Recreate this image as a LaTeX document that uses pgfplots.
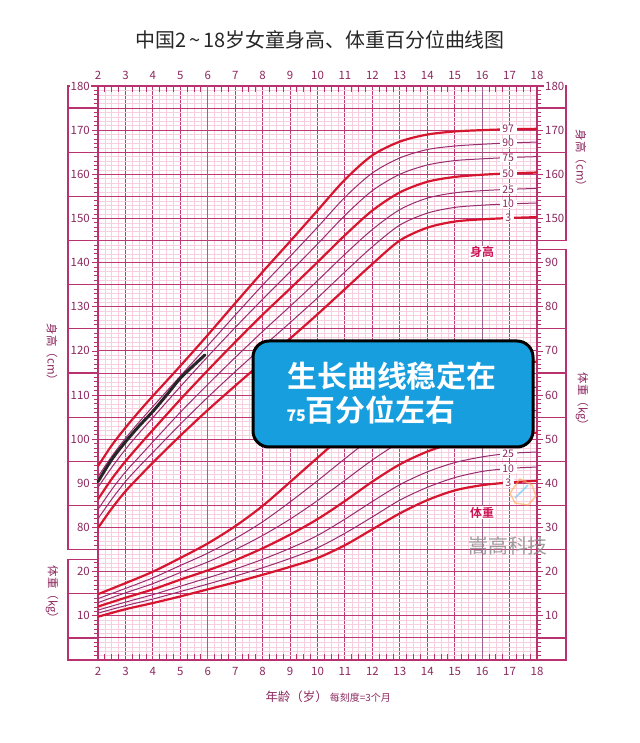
\documentclass[border=0pt]{standalone}
\usepackage{pgfplots}
\pgfplotsset{compat=1.18}
\usepackage{pgfplotstable}
\usepackage{fontspec}
\setmainfont{Noto Sans CJK SC}[BoldFont={Noto Sans CJK SC Bold}]
\definecolor{gridmaj}{RGB}{190,56,118}
\definecolor{gridmin}{RGB}{246,208,222}
\definecolor{gridv}{RGB}{150,100,140}
\definecolor{thickc}{RGB}{214,22,48}
\definecolor{thinc}{RGB}{152,44,112}
\definecolor{labc}{RGB}{140,40,95}
\definecolor{framec}{RGB}{185,50,112}
\definecolor{boxblue}{RGB}{22,158,222}
\definecolor{wmgrey}{RGB}{140,140,140}
\definecolor{tagc}{RGB}{205,20,85}

% girls height (cm)
\pgfplotstableread{
age  p3    p10   p25   p50   p75   p90   p97
2    79.9  82.0  84.1  86.4  89.1  91.5  93.9
2.5  84.3  86.4  88.6  91.0  93.6  96.1  98.6
3    88.2  90.4  92.6  95.0  97.7  100.2 102.6
3.5  91.5  93.8  96.0  98.6  101.4 103.9 106.3
4    94.7  97.0  99.4  102.1 104.9 107.4 109.8
5    100.8 103.4 106.1 109.0 111.9 114.3 116.6
6    106.6 109.5 112.4 115.6 118.7 121.2 123.6
7    112.1 115.3 118.5 122.0 125.3 128.1 130.8
8    117.5 120.9 124.4 128.2 131.7 134.9 137.9
9    122.8 126.4 130.1 134.1 137.9 141.4 144.8
10   128.3 132.0 135.9 140.1 144.2 148.0 151.8
11   134.0 137.9 141.9 146.2 150.7 154.8 158.8
12   139.7 143.6 147.5 151.8 156.3 160.3 164.3
13   145.0 148.5 152.0 155.9 160.0 163.7 167.4
14   147.9 151.2 154.6 158.3 162.1 165.6 169.0
15   149.3 152.5 155.8 159.4 163.1 166.4 169.7
16   149.8 153.0 156.3 159.9 163.5 166.8 170.0
17   150.1 153.3 156.6 160.2 163.8 167.1 170.2
18   150.3 153.5 156.8 160.4 164.0 167.3 170.3
}\htab

% girls weight (kg)
\pgfplotstableread{
age  p3   p10  p25  p50  p75  p90  p97
2    9.8  10.6 11.3 12.1 13.0 13.9 14.9
3    11.5 12.3 13.1 14.1 15.2 16.2 17.4
4    12.9 13.8 14.8 16.0 17.3 18.6 20.0
5    14.4 15.5 16.7 18.2 19.8 21.4 23.1
6    16.0 17.2 18.6 20.3 22.2 24.2 26.4
7    17.6 19.0 20.6 22.6 25.0 27.5 30.3
8    19.3 20.9 22.8 25.3 28.2 31.3 34.9
9    21.1 23.0 25.3 28.4 31.9 35.8 40.3
10   23.1 25.4 28.2 31.9 36.1 40.6 45.8
11   26.0 28.7 31.9 36.0 40.7 45.6 51.2
12   29.6 32.4 35.9 40.4 45.3 50.4 56.0
13   33.2 36.2 39.7 44.3 49.3 54.3 59.8
14   36.2 39.1 42.6 47.2 52.1 57.1 62.8
15   38.4 41.3 44.7 49.2 54.1 59.2 64.9
16   39.6 42.7 46.0 50.3 55.2 60.3 66.0
17   40.2 43.4 46.8 51.0 55.9 61.1 66.8
18   40.6 43.7 47.1 51.5 56.5 61.8 67.6
}\wtab

% child's measured height (cm)
\pgfplotstableread{
age h
2.0 90.4
2.5 95.4
3.0 99.4
3.5 103.0
4.0 106.3
4.5 110.0
5.0 113.8
5.5 116.8
5.9 119.1
}\child

\newcommand\tickfont{\fontsize{11.5}{12}\selectfont}

\begin{document}
\begin{tikzpicture}[x=1bp,y=1bp]
\useasboundingbox (0,0) rectangle (640,743);
\pgfplotsset{
  base/.style={at={(98bp,83bp)}, anchor=south west, scale only axis,
    width=439bp, height=574bp, xmin=2, xmax=18, ymin=0, ymax=130, clip=false},
  lbl/.style={font=\tickfont, text=labc},
}

% ---------- grid, frame and curves ----------
\begin{axis}[base,
  xtick={2,...,18}, ytick={0,5,...,130},
  minor x tick num=3, minor y tick num=4,
  grid=both,
  major grid style={gridmaj, line width=0.9bp},
  minor grid style={gridmin, line width=0.5bp},
  xticklabels={}, yticklabels={},
  major tick length=0pt, minor tick length=0pt,
  axis line style={draw=framec, line width=1.3bp}]
  % darker year lines
  \draw[gridv, line width=1.1bp] (axis cs:6,0) -- (axis cs:6,130);
  \draw[gridv, line width=1.1bp] (axis cs:16,0) -- (axis cs:16,130);
  % left column
  \draw[framec, line width=1.2bp] (axis cs:2,25) -- (axis cs:0.907,25) -- (axis cs:0.907,130) -- (axis cs:2,130);
  \pgfplotsinvokeforeach{35,45,...,125}{\draw[framec, line width=1.2bp] (axis cs:0.907,#1) -- (axis cs:2,#1);}
  \draw[framec, line width=1.2bp] (axis cs:2,22.8) -- (axis cs:0.907,22.8) -- (axis cs:0.907,0) -- (axis cs:2,0);
  \draw[framec, line width=1.2bp] (axis cs:0.907,15) -- (axis cs:2,15);
  \draw[framec, line width=1.2bp] (axis cs:0.907,5) -- (axis cs:2,5);
  % right column
  \draw[framec, line width=1.2bp] (axis cs:18,95) -- (axis cs:19.057,95) -- (axis cs:19.057,130) -- (axis cs:18,130);
  \pgfplotsinvokeforeach{105,115,125}{\draw[framec, line width=1.2bp] (axis cs:18,#1) -- (axis cs:19.057,#1);}
  \draw[framec, line width=1.2bp] (axis cs:18,93) -- (axis cs:19.057,93) -- (axis cs:19.057,0) -- (axis cs:18,0);
  \pgfplotsinvokeforeach{5,15,...,85}{\draw[framec, line width=1.2bp] (axis cs:18,#1) -- (axis cs:19.057,#1);}

  % weight curves
  \addplot[thickc, line width=2.2bp, smooth] table[x=age, y=p3]{\wtab};
  \addplot[thinc, line width=1bp, smooth] table[x=age, y=p10]{\wtab};
  \addplot[thinc, line width=1bp, smooth] table[x=age, y=p25]{\wtab};
  \addplot[thickc, line width=2.2bp, smooth] table[x=age, y=p50]{\wtab};
  \addplot[thinc, line width=1bp, smooth] table[x=age, y=p75]{\wtab};
  \addplot[thinc, line width=1bp, smooth] table[x=age, y=p90]{\wtab};
  \addplot[thickc, line width=2.2bp, smooth] table[x=age, y=p97]{\wtab};
  % height curves (plotted at height - 50)
  \addplot[thickc, line width=2.2bp, smooth] table[x=age, y expr=\thisrow{p3}-50]{\htab};
  \addplot[thinc, line width=1bp, smooth] table[x=age, y expr=\thisrow{p10}-50]{\htab};
  \addplot[thinc, line width=1bp, smooth] table[x=age, y expr=\thisrow{p25}-50]{\htab};
  \addplot[thickc, line width=2.2bp, smooth] table[x=age, y expr=\thisrow{p50}-50]{\htab};
  \addplot[thinc, line width=1bp, smooth] table[x=age, y expr=\thisrow{p75}-50]{\htab};
  \addplot[thinc, line width=1bp, smooth] table[x=age, y expr=\thisrow{p90}-50]{\htab};
  \addplot[thickc, line width=2.2bp, smooth] table[x=age, y expr=\thisrow{p97}-50]{\htab};
  % child
  \addplot[black!85, line width=3bp, smooth, line cap=round] table[x=age, y expr=\thisrow{h}-50]{\child};

  % percentile labels
  \tikzset{pl/.style={fill=white, inner xsep=2.5bp, inner ysep=0.5bp, font=\fontsize{10.5}{11}\selectfont, text=labc}}
  \node[pl] at (axis cs:16.95,120.2) {97};
  \node[pl] at (axis cs:16.95,117.1) {90};
  \node[pl] at (axis cs:16.95,113.8) {75};
  \node[pl] at (axis cs:16.95,110.2) {50};
  \node[pl] at (axis cs:16.95,106.6) {25};
  \node[pl] at (axis cs:16.95,103.3) {10};
  \node[pl] at (axis cs:16.95,100.1) {3};
  \node[pl] at (axis cs:16.95,66.8) {97};
  \node[pl] at (axis cs:16.95,61.1) {90};
  \node[pl] at (axis cs:16.95,55.9) {75};
  \node[pl] at (axis cs:16.95,51.0) {50};
  \node[pl] at (axis cs:16.95,46.8) {25};
  \node[pl] at (axis cs:16.95,43.4) {10};
  \node[pl] at (axis cs:16.95,40.2) {3};
  \node[fill=white, inner sep=1bp, text=tagc, font=\bfseries\fontsize{12}{12}\selectfont] at (axis cs:16,92.3) {身高};
  \node[fill=white, inner sep=1bp, text=tagc, font=\bfseries\fontsize{12}{12}\selectfont] at (axis cs:16,33.4) {体重};
\end{axis}

% ---------- left ticks ----------
\begin{axis}[base, axis line style={draw=none},
  xtick=\empty, ytick pos=left, tick align=outside,
  ytick={10,20,...,130},
  yticklabels={10,20,80,90,100,110,120,130,140,150,160,170,180},
  minor ytick={0,1,...,22,25,26,...,130},
  major tick length=6bp, minor tick length=4bp,
  tick style={framec, line width=0.8bp},
  yticklabel style={lbl, fill=white, inner sep=1bp, xshift=-1bp},
  /pgf/number format/assume math mode=true]
\end{axis}

% ---------- right ticks ----------
\begin{axis}[base, axis line style={draw=none},
  xtick=\empty, ytick pos=right, yticklabel pos=right, tick align=outside,
  ytick={10,20,...,130},
  yticklabels={10,20,30,40,50,60,70,80,90,150,160,170,180},
  minor ytick={0,1,...,93,95,96,...,130},
  major tick length=6bp, minor tick length=4bp,
  tick style={framec, line width=0.8bp},
  yticklabel style={lbl, fill=white, inner sep=1bp, xshift=1bp},
  /pgf/number format/assume math mode=true]
\end{axis}

% ---------- bottom ticks ----------
\begin{axis}[base, axis line style={draw=none},
  ytick=\empty, xtick={2,...,18}, xtick pos=left, tick align=inside,
  minor x tick num=3, major tick length=0pt, minor tick length=6bp,
  tick style={framec, line width=0.9bp},
  xticklabel style={lbl, yshift=-4bp},
  /pgf/number format/assume math mode=true]
\end{axis}

% ---------- top ticks ----------
\begin{axis}[base, axis line style={draw=none},
  ytick=\empty, xtick={2,...,18}, xtick pos=right, xticklabel pos=right, tick align=inside,
  minor x tick num=3, major tick length=0pt, minor tick length=6bp,
  tick style={framec, line width=0.9bp},
  xticklabel style={lbl, yshift=3bp},
  /pgf/number format/assume math mode=true]
\end{axis}

% ---------- texts ----------
\node[font=\fontsize{20}{20}\selectfont, text=black!85] at (320,703) {中国2\,\textasciitilde\,18岁女童身高、体重百分位曲线图};
\node[text=labc, anchor=west] at (262,46) {\fontsize{12.5}{13}\selectfont 年龄（岁）\,\fontsize{10}{10}\selectfont 每刻度=3个月};
\node[text=labc, rotate=-90, font=\fontsize{11.5}{12}\selectfont] at (52,388) {身高（cm）};
\node[text=labc, rotate=-90, font=\fontsize{11.5}{12}\selectfont] at (52,148) {体重（kg）};
\node[text=labc, rotate=-90, font=\fontsize{11.5}{12}\selectfont] at (581,582) {身高（cm）};
\node[text=labc, rotate=-90, font=\fontsize{11.5}{12}\selectfont] at (582,341) {体重（kg）};

% watermark
\draw[orange!70, line width=1.5bp, opacity=0.6] (520,264) -- (532,258) -- (536,247) -- (528,238) -- (515,240) -- (510,250) -- cycle;
\draw[cyan!60, line width=1.5bp, opacity=0.7] (515,245) -- (528,258);
\node[text=wmgrey, opacity=0.85, font=\fontsize{20}{20}\selectfont] at (508,197) {嵩高科技};

% callout
\draw[line width=3bp, rounded corners=16bp, fill=boxblue] (253,296) rectangle (533,402);
\node[text=white, font=\bfseries\fontsize{30}{30}\selectfont] at (392,367) {生长曲线稳定在};
\node[text=white, anchor=west, font=\bfseries\fontsize{30}{30}\selectfont] at (283,333) {{\fontsize{16}{16}\selectfont\itshape 75}百分位左右};
\end{tikzpicture}
\end{document}
